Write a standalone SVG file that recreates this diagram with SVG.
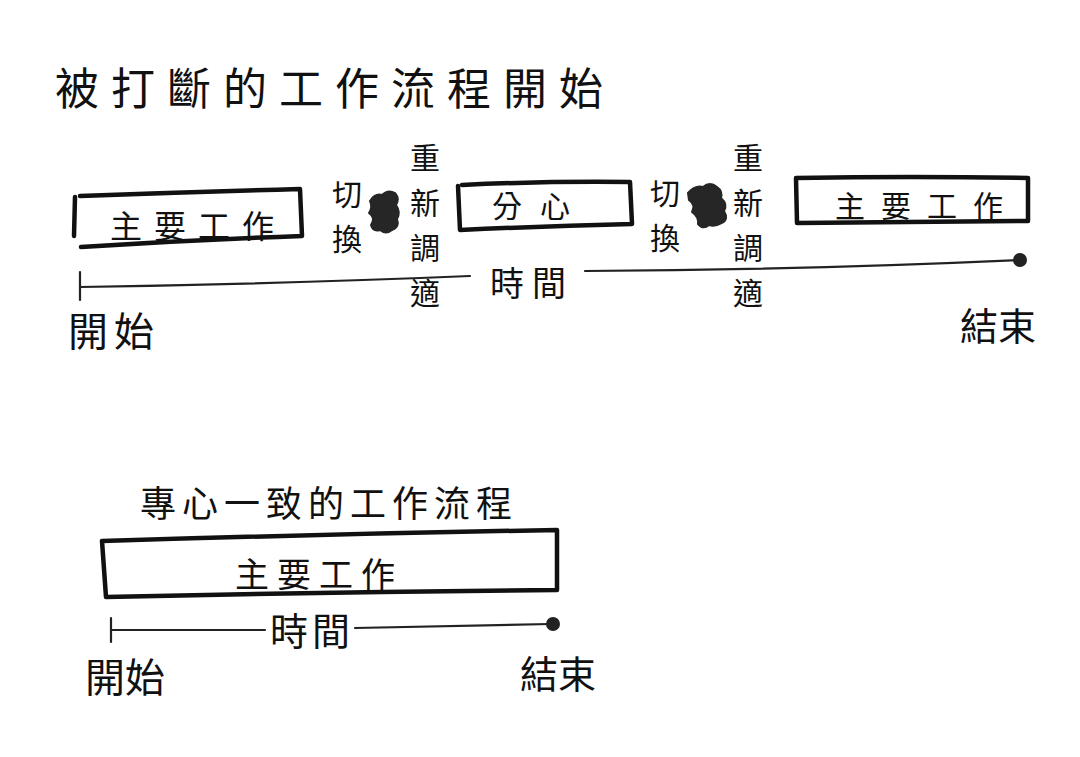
<svg xmlns="http://www.w3.org/2000/svg" width="1080" height="757" viewBox="0 0 1080 757">
<style>
  .t { font-family: "Noto Sans CJK TC", "Noto Sans CJK SC", sans-serif; fill: #111; }
  .box { fill: none; stroke: #111; stroke-width: 4.5; stroke-linejoin: round; stroke-linecap: round; }
  .line { fill: none; stroke: #222; stroke-width: 2.2; stroke-linecap: round; }
  .tick { fill: none; stroke: #222; stroke-width: 2.2; stroke-linecap: round; }
  .blob { fill: #262626; stroke: #262626; stroke-width: 2; stroke-linejoin: round; }
  .v { text-anchor: middle; }
</style>
<rect width="1080" height="757" fill="#ffffff"/>

<g id="title-interrupted">
  <text class="t" x="55" y="105" font-size="44" letter-spacing="12">被打斷的工作流程開始</text>
</g>

<g id="box-main-1">
  <path class="box" d="M75 197 L74 236 M80 196 Q190 192 300 189 L302 236 Q190 240 81 247"/>
  <text class="t" x="110" y="238" font-size="32" letter-spacing="12">主要工作</text>
</g>

<g id="switch-1">
  <text class="t v" x="347" y="205" font-size="30">切</text>
  <text class="t v" x="347" y="250" font-size="30">換</text>
</g>

<g id="blob-1">
  <path class="blob" d="M370 201 Q375 193 382 195 Q388 189 395 193 Q400 199 396 205 Q401 212 397 219 Q400 227 392 230 Q386 235 380 230 Q373 232 371 225 Q376 218 369 213 Q373 207 370 201 Z"/>
</g>

<g id="readjust-1">
  <text class="t v" x="425" y="169" font-size="30">重</text>
  <text class="t v" x="425" y="214" font-size="30">新</text>
  <text class="t v" x="425" y="259" font-size="30">調</text>
  <text class="t v" x="425" y="304" font-size="30">適</text>
</g>

<g id="box-distraction">
  <path class="box" d="M458 186 L460 230 Q545 226 632 224 L630 182 Q545 181 462 185"/>
  <text class="t" x="492" y="217" font-size="30" letter-spacing="18">分心</text>
</g>

<g id="switch-2">
  <text class="t v" x="665" y="204" font-size="30">切</text>
  <text class="t v" x="665" y="249" font-size="30">換</text>
</g>

<g id="blob-2">
  <path class="blob" d="M688 193 Q695 185 703 187 Q710 181 717 187 Q723 191 721 198 Q728 204 724 211 Q729 219 722 223 Q715 227 709 225 Q703 230 698 224 Q699 217 692 212 Q696 205 689 200 Z"/>
</g>

<g id="readjust-2">
  <text class="t v" x="748" y="169" font-size="30">重</text>
  <text class="t v" x="748" y="214" font-size="30">新</text>
  <text class="t v" x="748" y="259" font-size="30">調</text>
  <text class="t v" x="748" y="304" font-size="30">適</text>
</g>

<g id="box-main-2">
  <path class="box" d="M796 178 L797 223 Q910 222 1028 221 L1028 178 Q910 176 796 178"/>
  <text class="t" x="835" y="217" font-size="30" letter-spacing="16">主要工作</text>
</g>

<g id="label-time-1">
  <text class="t" x="490" y="296" font-size="34" letter-spacing="8">時間</text>
</g>
<g id="label-start-1">
  <text class="t" x="68" y="346" font-size="40" letter-spacing="6">開始</text>
</g>
<g id="label-end-1">
  <text class="t" x="960" y="340" font-size="38">結束</text>
</g>

<g id="title-focused">
  <text class="t" x="140" y="517" font-size="36" letter-spacing="6">專心一致的工作流程</text>
</g>

<g id="box-main-focused">
  <path class="box" d="M102 541 Q330 534 557 530 L557 590 Q330 592 106 597 Z"/>
  <text class="t" x="235" y="587" font-size="34" letter-spacing="8">主要工作</text>
</g>

<g id="label-time-2">
  <text class="t" x="270" y="645" font-size="38" letter-spacing="4">時間</text>
</g>
<g id="label-start-2">
  <text class="t" x="85" y="692" font-size="40">開始</text>
</g>
<g id="label-end-2">
  <text class="t" x="520" y="688" font-size="38">結束</text>
</g>

<g id="connectors">
  <path class="tick" d="M80 272 L80 300"/>
  <path class="line" d="M80 287 Q280 284 470 276"/>
  <path class="line" d="M585 271 Q800 270 1020 260"/>
  <circle cx="1020" cy="260" r="7" fill="#222"/>
  <path class="tick" d="M111 618 L111 642"/>
  <path class="line" d="M111 630 L265 630"/>
  <path class="line" d="M355 628 Q450 626 550 624"/>
  <circle cx="553" cy="624" r="7" fill="#222"/>
</g>
</svg>
